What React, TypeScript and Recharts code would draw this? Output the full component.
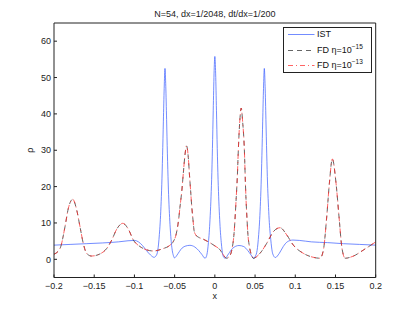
import { LineChart, Line, XAxis, YAxis, Legend } from "recharts"

const FONT = "'Liberation Sans', Arial, sans-serif"

const title = "N=54, dx=1/2048, dt/dx=1/200"
const xTicks = [-0.2, -0.15, -0.1, -0.05, 0, 0.05, 0.1, 0.15, 0.2]
const yTicks = [0, 10, 20, 30, 40, 50, 60]

// IST (solid blue)
const istX = [
  -0.2, -0.18, -0.16, -0.14, -0.12, -0.108, -0.1, -0.095, -0.09, -0.085, -0.08, -0.0756,
  -0.073, -0.071, -0.07, -0.069, -0.068, -0.067, -0.066, -0.065, -0.064, -0.063, -0.062,
  -0.061, -0.06, -0.059, -0.058, -0.057, -0.056, -0.055, -0.054, -0.053, -0.0515, -0.0503,
  -0.046, -0.042, -0.037, -0.031, -0.025, -0.02, -0.016, -0.0122,
  -0.0105, -0.009, -0.008, -0.007, -0.006, -0.005, -0.004, -0.003, -0.002, -0.001, 0,
  0.001, 0.002, 0.003, 0.004, 0.005, 0.006, 0.007, 0.008, 0.009, 0.0105, 0.0127,
  0.017, 0.022, 0.03, 0.036, 0.041, 0.045, 0.0485,
  0.0505, 0.0525, 0.0535, 0.0545, 0.0555, 0.0565, 0.0575, 0.0585, 0.0595, 0.0605, 0.0615,
  0.0625, 0.0635, 0.0645, 0.0655, 0.0665, 0.0675, 0.0685, 0.0695, 0.0705, 0.072, 0.0752,
  0.08, 0.085, 0.09, 0.097, 0.105, 0.12, 0.14, 0.16, 0.18, 0.2,
]
const istY = [
  3.9, 4.1, 4.3, 4.5, 4.8, 5.1, 5.2, 4.8, 3.8, 2.4, 1.2, 0.55,
  1.0, 2.4, 4.2, 6.8, 10, 14.5, 20.5, 28.5, 38, 47, 52.5,
  47.5, 38.5, 29, 21, 15, 10.5, 7, 4.3, 2.5, 1.0, 0.4,
  1.5, 2.8, 3.6, 3.85, 3.4, 2.4, 1.3, 0.3,
  0.8, 2.5, 4.6, 7.3, 11, 15.8, 22, 30.5, 41, 51, 55.8,
  51, 41, 30.5, 22, 15.8, 11, 7.3, 4.6, 2.5, 0.8, 0.3,
  1.5, 3.0, 3.8, 3.5, 2.4, 1.2, 0.25,
  0.9, 2.4, 4.2, 6.8, 10, 14.5, 20.5, 28.5, 38, 47, 52.5,
  47.5, 38.5, 29, 21, 15.5, 11, 7.8, 5.5, 3.4, 1.5, 0.5,
  1.6, 3.5, 4.8, 5.3, 5.2, 4.8, 4.6, 4.3, 4.1, 3.9,
]

// FD runs (eta = 1e-15 and 1e-13 lie on top of each other)
const fdX = [
  -0.2, -0.1925, -0.1863, -0.1822, -0.1767, -0.1718, -0.1677, -0.1636, -0.1595, -0.1533,
  -0.1427, -0.1344, -0.1282, -0.122, -0.1145, -0.1076, -0.1013, -0.093, -0.0847, -0.0765,
  -0.065, -0.0557, -0.0516, -0.048, -0.045, -0.0433, -0.041, -0.0392, -0.037, -0.0352,
  -0.033, -0.0317, -0.03, -0.0287, -0.027, -0.0259, -0.024, -0.0205, -0.015, -0.008,
  0, 0.0065, 0.01, 0.0145, 0.018, 0.021, 0.0239, 0.0264, 0.028, 0.0292,
  0.031, 0.0328, 0.0345, 0.0367, 0.038, 0.0388, 0.04, 0.041, 0.043, 0.045,
  0.0479, 0.0561, 0.0645, 0.0727, 0.0811, 0.0894, 0.0976, 0.11, 0.1225, 0.1308,
  0.135, 0.1391, 0.1424, 0.1461, 0.1507, 0.1544, 0.1578, 0.162, 0.1723, 0.185, 0.2,
]
const fd15Y = [
  1.4, 3.0, 9.0, 14.0, 16.5, 13.6, 9.0, 4.4, 1.65, 0.9,
  1.5, 3.0, 5.3, 8.3, 9.9, 8.3, 5.3, 3.5, 2.6, 2.3,
  2.9, 3.9, 4.9, 7.0, 11, 14.5, 19, 23.7, 29, 31.2,
  28, 23.7, 18.5, 14.5, 10.5, 8.0, 6.8, 6.1, 5.6, 4.8,
  3.7, 2.6, 1.4, 0.3, 0.8, 2.5, 7.2, 16.3, 23, 30.1,
  38, 41.6, 38, 30.1, 21, 16.3, 11, 7.2, 3.5, 1.5,
  0.3, 1.65, 4.4, 7.6, 8.7, 6.7, 3.9, 1.65, 0.55, 0.3,
  2.6, 11.7, 20.9, 27.6, 20.9, 11.7, 3.5, 0.3, 0.9, 2.6, 4.8,
]
const fd13Y = fd15Y

const zip = (xs: number[], ys: number[]) => xs.map((x, i) => ({ x, y: ys[i] }))
const istData = zip(istX, istY)
const fd15Data = zip(fdX, fd15Y)
const fd13Data = zip(fdX, fd13Y)

const BLUE = "#4466ff"
const BLACK = "#333"
const RED = "#ff3030"
const LW = 0.75

const fmt = (v: number) => String(v).replace("-", "\u2212")
const tickStyle = { fontSize: 9, fill: "#222", fontFamily: FONT }

function LegendBox() {
  const rows = [
    { color: BLUE, dash: undefined, label: "IST", sup: "" },
    { color: BLACK, dash: "5 4", label: "FD \u03b7=10", sup: "\u221215" },
    { color: RED, dash: "5 3 1 3", label: "FD \u03b7=10", sup: "\u221213" },
  ]
  const centers = [6, 22.3, 37.3]
  return (
    <div
      style={{
        position: "relative",
        width: 89,
        height: 46,
        boxSizing: "border-box",
        border: "1px solid #222",
        background: "#fff",
        fontFamily: FONT,
        fontSize: 9,
        color: "#111",
      }}
    >
      {rows.map((r, i) => (
        <div key={i} style={{ position: "absolute", left: 0, top: centers[i] - 7.5, height: 15, width: 87 }}>
          <svg width={32} height={15} style={{ position: "absolute", left: 0, top: 0 }}>
            <line x1={4} x2={30.5} y1={7.5} y2={7.5} stroke={r.color} strokeWidth={LW} strokeDasharray={r.dash} />
          </svg>
          <span style={{ position: "absolute", left: 33, top: 2, lineHeight: "11px", whiteSpace: "nowrap" }}>
            {r.label}
            {r.sup && <span style={{ fontSize: 6.5, position: "relative", top: -3.5 }}>{r.sup}</span>}
          </span>
        </div>
      ))}
    </div>
  )
}

export default function App() {
  return (
    <div style={{ position: "absolute", left: 0, top: 0, width: 415, height: 313, background: "#fff" }}>
      <LineChart width={415} height={313} margin={{ top: 18, right: 34.3, bottom: 5.5, left: 6 }}>
        <XAxis
          xAxisId="b"
          dataKey="x"
          type="number"
          domain={[-0.2, 0.2]}
          allowDataOverflow
          ticks={xTicks}
          interval={0}
          tickFormatter={fmt}
          tick={tickStyle}
          tickSize={-3}
          tickMargin={8}
          height={30}
          axisLine={{ stroke: "#222" }}
          tickLine={{ stroke: "#222" }}
          label={{ value: "x", position: "insideBottom", offset: 8.2, fontSize: 9, fill: "#222", fontFamily: FONT }}
        />
        <XAxis
          xAxisId="t"
          orientation="top"
          type="number"
          domain={[-0.2, 0.2]}
          allowDataOverflow
          ticks={xTicks}
          interval={0}
          tick={false}
          tickSize={-3}
          height={5}
          axisLine={{ stroke: "#222" }}
          tickLine={{ stroke: "#222" }}
          label={{ value: title, position: "top", offset: 1.3, fontSize: 9, fill: "#222", fontFamily: FONT }}
        />
        <YAxis
          yAxisId="l"
          type="number"
          domain={[-5, 65]}
          allowDataOverflow
          ticks={yTicks}
          interval={0}
          tick={tickStyle}
          tickSize={-3}
          tickMargin={6}
          width={48}
          axisLine={{ stroke: "#222" }}
          tickLine={{ stroke: "#222" }}
          label={{ value: "\u03c1", angle: -90, position: "center", fontSize: 9, fill: "#222", fontFamily: FONT }}
        />
        <YAxis
          yAxisId="r"
          orientation="right"
          type="number"
          domain={[-5, 65]}
          allowDataOverflow
          ticks={yTicks}
          interval={0}
          tick={false}
          tickSize={-3}
          width={5}
          axisLine={{ stroke: "#222" }}
          tickLine={{ stroke: "#222" }}
        />
        <Legend
          layout="vertical"
          align="center"
          verticalAlign="middle"
          content={<LegendBox />}
          wrapperStyle={{ left: 283, top: 27, width: 89, height: 46 }}
        />
        <Line
          data={istData}
          dataKey="y"
          xAxisId="b"
          yAxisId="l"
          type="monotone"
          stroke={BLUE}
          strokeWidth={LW}
          dot={false}
          isAnimationActive={false}
        />
        <Line
          data={fd15Data}
          dataKey="y"
          xAxisId="b"
          yAxisId="l"
          type="monotone"
          stroke={BLACK}
          strokeWidth={LW}
          strokeDasharray="5 4"
          dot={false}
          isAnimationActive={false}
        />
        <Line
          data={fd13Data}
          dataKey="y"
          xAxisId="b"
          yAxisId="l"
          type="monotone"
          stroke={RED}
          strokeWidth={LW}
          strokeDasharray="5 3 1 3"
          dot={false}
          isAnimationActive={false}
        />
      </LineChart>
    </div>
  )
}
